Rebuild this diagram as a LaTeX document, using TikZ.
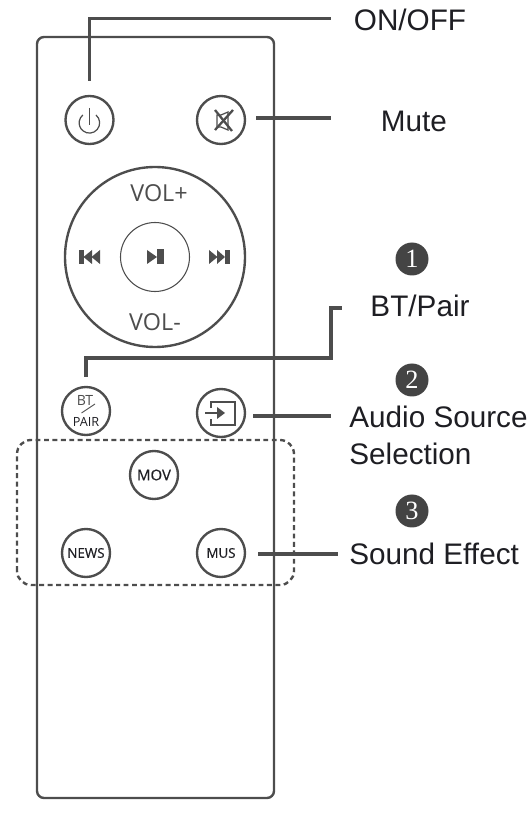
\documentclass[tikz,border=0pt]{standalone}
\usepackage{fontspec}
\setmainfont{Liberation Sans}
\newfontfamily\btnfont{Open Sans}
\newfontfamily\heavyfont[FakeBold=0.5]{Open Sans}
\newfontfamily\digitfont{Liberation Serif}
\usetikzlibrary{positioning}
\definecolor{mydark}{RGB}{77,77,77}
\definecolor{mybadge}{RGB}{68,68,68}
\definecolor{mytext}{RGB}{30,30,35}
\tikzset{
  roundbtn/.style={circle, draw=mydark, fill=white, minimum size=0.96cm, inner sep=0pt,
    line width=1.35pt, font=\heavyfont\fontsize{7.6}{9}\selectfont, text=mytext},
  badge/.style={circle, fill=mybadge, minimum size=0.66cm, inner sep=0pt,
    font=\digitfont\fontsize{15}{17}\selectfont, text=white},
  callout/.style={font=\fontsize{16.9}{20}\selectfont, text=mytext, inner sep=0pt},
  volume/.style={font=\btnfont\fontsize{13.3}{15}\selectfont, text=mydark, inner sep=0pt},
  leader/.style={line width=2pt, color=mydark},
  icon/.style={line width=0.7pt, color=mydark},
  iconfill/.style={fill=mydark}
}
\begin{document}
\begin{tikzpicture}
  \useasboundingbox (0,0) rectangle (10.58,16.44);
  % --- Remote body ---
  \draw[line width=1.35pt, color=mydark, rounded corners=4pt] (0.74,0.48) rectangle (5.48,15.70);

  % --- Buttons ---
  \node[roundbtn] (power) at (1.79,14.04) {};
  \node[roundbtn] (mute) at (4.42,14.04) {};
  \node[roundbtn, minimum size=3.6cm] (wheel) at (3.10,11.30) {};
  \node[roundbtn, minimum size=1.38cm, line width=0.6pt] (play) at (3.10,11.30) {};
  \node[roundbtn] (btpair) at (1.72,8.22) {};
  \node[roundbtn] (source) at (4.42,8.18) {};
  \node[roundbtn, font=\heavyfont\fontsize{8.5}{10}\selectfont] (mov) at (3.08,6.94) {MOV};
  \node[roundbtn] (news) at (1.72,5.38) {NEWS};
  \node[roundbtn] (mus) at (4.42,5.38) {MUS};

  % --- Wheel labels ---
  \node[volume] (volup) at (3.18,12.58) {VOL+};
  \node[volume] (voldown) at (3.10,10.00) {VOL-};

  % Power glyph
  \draw[icon, line width=1.1pt] (1.79,14.28) -- (1.79,13.94);
  \draw[icon] (1.92,14.14) arc[start angle=50, end angle=-230, radius=0.205];

  % Mute glyph
  \draw[icon] (4.34,14.14) -- (4.34,13.90) -- (4.42,13.90) -- (4.56,13.84) -- (4.56,14.20) -- (4.42,14.14) -- cycle;
  \draw[icon, line width=1.3pt] (4.30,14.24) -- (4.64,13.82);
  \draw[icon, line width=1.3pt] (4.30,13.84) -- (4.66,14.24);

  % Skip and play glyphs
  \fill[iconfill] (1.58,11.16) rectangle (1.67,11.44);
  \fill[iconfill] (1.67,11.30) -- (1.84,11.44) -- (1.84,11.16) -- cycle;
  \fill[iconfill] (1.83,11.30) -- (2.00,11.44) -- (2.00,11.16) -- cycle;
  \fill[iconfill] (4.50,11.16) rectangle (4.59,11.44);
  \fill[iconfill] (4.50,11.30) -- (4.34,11.44) -- (4.34,11.16) -- cycle;
  \fill[iconfill] (4.35,11.30) -- (4.18,11.44) -- (4.18,11.16) -- cycle;
  \fill[iconfill] (3.14,11.15) rectangle (3.28,11.45);
  \fill[iconfill] (3.14,11.30) -- (2.94,11.44) -- (2.94,11.16) -- cycle;

  % BT / PAIR face
  \node[font=\btnfont\fontsize{8}{9}\selectfont, text=mydark, inner sep=0pt] (bttext) at (1.70,8.43) {BT};
  \node[font=\btnfont\fontsize{7.2}{9}\selectfont, text=mytext, inner sep=0pt] (pairtext) at (1.72,8.00) {PAIR};
  \draw[line width=0.5pt, color=mydark] (1.63,8.18) -- (1.90,8.36);

  % Source glyph
  \draw[icon, line width=1.5pt] (4.22,8.28) -- (4.22,8.40) -- (4.70,8.40) -- (4.70,7.94) -- (4.22,7.94) -- (4.22,8.06);
  \draw[icon, line width=1.3pt] (4.10,8.18) -- (4.36,8.18);
  \fill[iconfill] (4.50,8.18) -- (4.34,8.30) -- (4.34,8.06) -- cycle;

  % --- Dashed group ---
  \draw[line width=1.35pt, color=mydark, dash pattern=on 2.8pt off 2pt, rounded corners=8pt] (0.34,4.74) rectangle (5.88,7.64);

  % --- Labels ---
  \node[callout] (onoff) at (8.20,16.04) {ON/OFF};
  \node[callout] (mutetext) at (8.28,14.02) {Mute};
  \node[badge] (one) at (8.24,11.26) {1};
  \node[callout] (bttitle) at (8.40,10.32) {BT/Pair};
  \node[badge] (two) at (8.24,8.84) {2};
  \node[callout, anchor=west] (audio) at (6.98,8.10) {Audio Source};
  \node[callout, anchor=west] (selection) at (6.98,7.36) {Selection};
  \node[badge] (three) at (8.24,6.22) {3};
  \node[callout, anchor=west] (sound) at (6.98,5.36) {Sound Effect};

  % --- Leader ends ---
  \coordinate (onoffend) at (6.62,16.07);
  \coordinate (muteend) at (6.62,14.08);
  \coordinate (btend) at (6.84,10.28);
  \coordinate (sourceend) at (6.62,8.12);
  \coordinate (musend) at (6.76,5.36);

  % --- Leaders ---
  \draw[leader, shorten <=0.28cm] (power.north) |- (onoffend);
  \draw[leader, shorten <=0.2cm] (mute.east |- muteend) -- (muteend);
  \draw[leader, shorten <=0.18cm] (btpair.north) -- (1.72,9.28) -| (6.62,10.28) -- (btend);
  \draw[leader, shorten <=0.14cm] (source.east |- sourceend) -- (sourceend);
  \draw[leader, shorten <=0.24cm] (mus.east |- musend) -- (musend);
\end{tikzpicture}
\end{document}
